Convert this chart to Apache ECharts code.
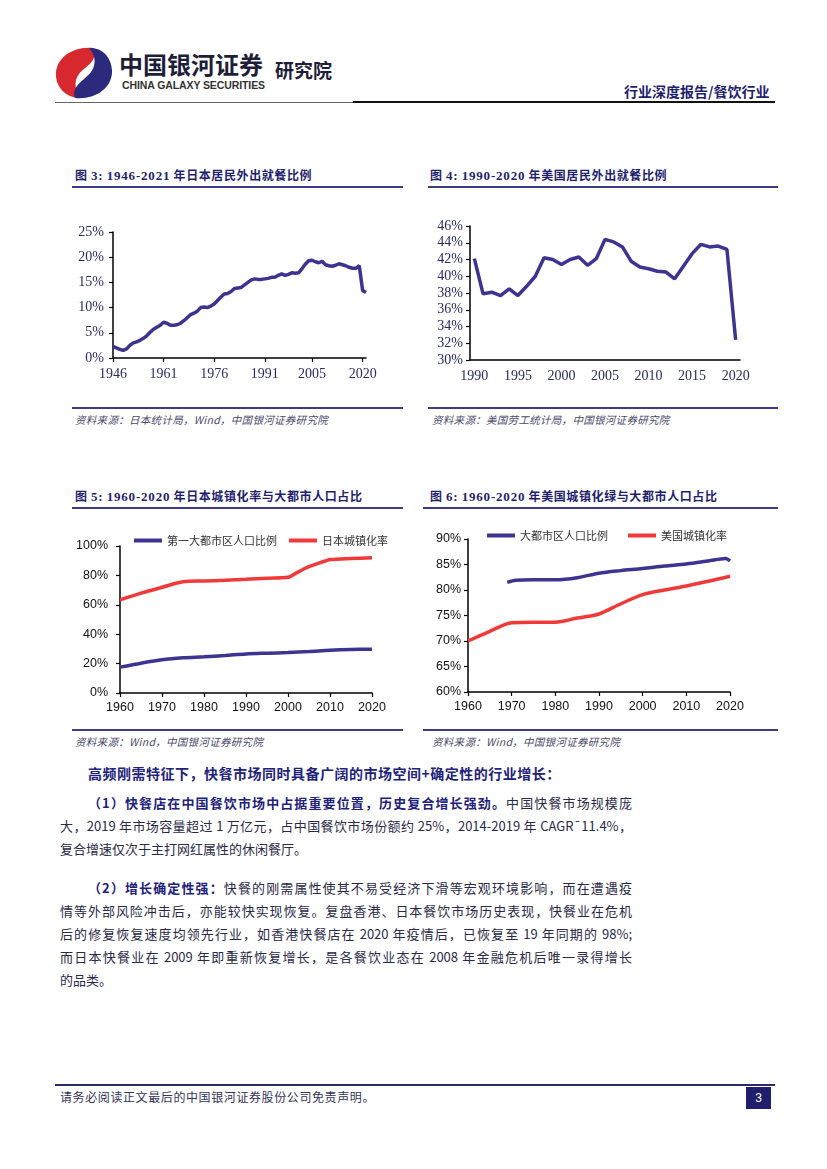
<!DOCTYPE html>
<html><head><meta charset="utf-8">
<script src="https://cdn.jsdelivr.net/npm/echarts@6/dist/echarts.min.js"></script>
<style>
html,body{margin:0;padding:0;background:#fff;}
#page{position:relative;width:827px;height:1169px;overflow:hidden;font-family:"Noto Sans CJK SC",sans-serif;background:#fff;}
.abs{position:absolute;white-space:nowrap;}
#chart{position:absolute;left:0;top:0;width:827px;height:1169px;}
.ttl{font-size:12px;font-weight:bold;color:#1f1f6e;line-height:16px;letter-spacing:0.6px;}
.ttl .n{font-family:"Liberation Serif",serif;font-size:13px;letter-spacing:0.8px;}
.rule{position:absolute;height:2px;background:#3d3a86;}
.src{font-size:10.5px;font-style:italic;color:#4a4a6a;line-height:14px;letter-spacing:0.3px;}
.body{font-size:13px;color:#2a2a48;line-height:16px;}
.b{font-weight:bold;color:#22227a;}
.jl{text-align:justify;text-align-last:justify;}
</style></head>
<body>
<div id="page">
  <!-- header -->
  <svg class="abs" style="left:53px;top:44px" width="62" height="58" viewBox="0 0 62 58">
    <path fill="#d7282f" d="M40,4 C20,2 2,14 3,32 C4,46 16,55 30,54 C22,48 20,38 26,30 C32,22 46,18 40,4 Z"/>
    <path fill="#2b2a7c" d="M22,54 C42,56 60,44 59,26 C58,12 48,3 36,4 C42,10 44,20 38,28 C32,36 18,42 22,54 Z"/>
  </svg>
  <div class="abs" style="left:119px;top:49px;font-size:24px;font-weight:bold;color:#1e1e38;line-height:30px;">中国银河证券</div>
  <div class="abs" style="left:122px;top:79px;font-size:10.5px;font-weight:bold;color:#333;font-family:'Liberation Sans',Arial,sans-serif;line-height:12px;letter-spacing:-0.1px;">CHINA GALAXY SECURITIES</div>
  <div class="abs" style="left:275px;top:58px;font-size:19px;font-weight:bold;color:#1e1e38;line-height:24px;">研究院</div>
  <div class="abs" style="left:55px;top:102px;width:298px;height:1px;background:#666;"></div>
  <div class="abs" style="left:353px;top:101px;width:422px;height:2px;background:#111;"></div>
  <div class="abs" style="left:624px;top:82px;font-size:14px;font-weight:bold;color:#1f1f6e;line-height:18px;">行业深度报告/餐饮行业</div>

  <!-- chart titles -->
  <div class="abs ttl" style="left:75px;top:167px;">图 <span class="n">3:</span> <span class="n">1946-2021</span> 年日本居民外出就餐比例</div>
  <div class="rule" style="left:72px;top:186px;width:331px;"></div>
  <div class="abs ttl" style="left:430px;top:167px;">图 <span class="n">4:</span> <span class="n">1990-2020</span> 年美国居民外出就餐比例</div>
  <div class="rule" style="left:428px;top:186px;width:350px;"></div>
  <div class="rule" style="left:72px;top:407px;width:331px;"></div>
  <div class="abs src" style="left:75px;top:413px;">资料来源：日本统计局，Wind，中国银河证券研究院</div>
  <div class="rule" style="left:428px;top:407px;width:350px;"></div>
  <div class="abs src" style="left:432px;top:413px;">资料来源：美国劳工统计局，中国银河证券研究院</div>

  <div class="abs ttl" style="left:75px;top:488px;">图 <span class="n">5:</span> <span class="n">1960-2020</span> 年日本城镇化率与大都市人口占比</div>
  <div class="rule" style="left:72px;top:507px;width:331px;"></div>
  <div class="abs ttl" style="left:430px;top:488px;">图 <span class="n">6:</span> <span class="n">1960-2020</span> 年美国城镇化绿与大都市人口占比</div>
  <div class="rule" style="left:423px;top:507px;width:355px;"></div>
  <div class="rule" style="left:72px;top:729px;width:331px;"></div>
  <div class="abs src" style="left:75px;top:735px;">资料来源：Wind，中国银河证券研究院</div>
  <div class="rule" style="left:423px;top:729px;width:355px;"></div>
  <div class="abs src" style="left:432px;top:735px;">资料来源：Wind，中国银河证券研究院</div>

  <!-- body text -->
  <div class="abs body b" style="left:88px;top:765px;font-size:14px;letter-spacing:0.5px;">高频刚需特征下，快餐市场同时具备广阔的市场空间+确定性的行业增长：</div>

  <div class="abs body jl" style="left:88px;top:795px;width:544px;"><span class="b">（1）快餐店在中国餐饮市场中占据重要位置，历史复合增长强劲。</span>中国快餐市场规模庞</div>
  <div class="abs body jl" style="left:60px;top:818px;width:572px;">大，2019 年市场容量超过 1 万亿元，占中国餐饮市场份额约 25%，2014-2019 年 CAGR¯11.4%，</div>
  <div class="abs body" style="left:60px;top:841px;">复合增速仅次于主打网红属性的休闲餐厅。</div>

  <div class="abs body jl" style="left:88px;top:880px;width:544px;"><span class="b">（2）增长确定性强：</span>快餐的刚需属性使其不易受经济下滑等宏观环境影响，而在遭遇疫</div>
  <div class="abs body jl" style="left:60px;top:903px;width:572px;">情等外部风险冲击后，亦能较快实现恢复。复盘香港、日本餐饮市场历史表现，快餐业在危机</div>
  <div class="abs body jl" style="left:60px;top:926px;width:572px;">后的修复恢复速度均领先行业，如香港快餐店在 2020 年疫情后，已恢复至 19 年同期的 98%;</div>
  <div class="abs body jl" style="left:60px;top:949px;width:572px;">而日本快餐业在 2009 年即重新恢复增长，是各餐饮业态在 2008 年金融危机后唯一录得增长</div>
  <div class="abs body" style="left:60px;top:972px;">的品类。</div>

  <!-- footer -->
  <div class="abs" style="left:55px;top:1084px;width:720px;height:2px;background:#2b2a6e;"></div>
  <div class="abs" style="left:60px;top:1089px;font-size:12px;color:#33335a;letter-spacing:0.6px;line-height:16px;">请务必阅读正文最后的中国银河证券股份公司免责声明。</div>
  <div class="abs" style="left:746px;top:1087px;width:25px;height:22px;background:#1f1f6e;color:#fff;font-size:12px;line-height:22px;text-align:center;font-family:'Liberation Sans',Arial,sans-serif;">3</div>

  <div id="chart"></div>
</div>
<script>
// ---- Figure 3: Japan share of eating out, 1946-2021 (%)
const jpYears = ['1946','1947','1948','1949','1950','1951','1952','1953','1954','1955','1956','1957','1958','1959',
  '1960','1961','1962','1963','1964','1965','1966','1967','1968','1969','1970','1971','1972','1973','1974','1975',
  '1976','1977','1978','1979','1980','1981','1982','1983','1984','1985','1986','1987','1988','1989','1990','1991',
  '1992','1993','1994','1995','1996','1997','1998','1999','2000','2001','2002','2003','2004','2005','2006','2007',
  '2008','2009','2010','2011','2012','2013','2014','2015','2016','2017','2018','2019','2020','2021'];
const jpShare = [2.3,2.0,1.7,1.5,1.8,2.5,3.0,3.2,3.5,3.9,4.4,5.1,5.7,6.1,6.5,7.1,6.9,6.5,6.5,6.6,
  6.9,7.4,8.0,8.6,8.9,9.3,10.0,10.1,10.0,10.3,10.7,11.4,12.1,12.7,12.8,13.2,13.8,13.9,14.0,14.5,
  15.0,15.5,15.7,15.6,15.6,15.7,15.8,16.0,16.0,16.4,16.7,16.4,16.6,16.9,16.8,16.9,17.7,18.6,19.3,19.4,
  19.1,18.9,19.2,18.5,18.3,18.2,18.4,18.7,18.5,18.3,18.0,17.8,17.8,18.3,13.4,13.0];
const jpTickLabels = ['1946','1961','1976','1991','2005','2020'];

// ---- Figure 4: US share of eating out, 1990-2020 (%)
const usYears = ['1990','1991','1992','1993','1994','1995','1996','1997','1998','1999','2000','2001','2002','2003',
  '2004','2005','2006','2007','2008','2009','2010','2011','2012','2013','2014','2015','2016','2017','2018','2019','2020'];
const usShare = [42.1,37.9,38.1,37.7,38.5,37.7,38.8,40.0,42.2,42.0,41.4,42.0,42.3,41.3,42.1,44.4,44.1,43.5,
  41.8,41.1,40.9,40.6,40.5,39.7,41.2,42.7,43.8,43.5,43.6,43.2,32.4];
const usTickLabels = ['1990','1995','2000','2005','2010','2015','2020'];

// ---- Figure 5: Japan urbanization & largest metro share (%)
const jpMetro = [[1960,17.6],[1965,20.3],[1970,22.6],[1975,23.9],[1980,24.6],[1985,25.5],[1990,26.6],
  [1995,27.1],[2000,27.5],[2005,28.2],[2010,29.1],[2015,29.6],[2020,29.8]];
const jpUrban = [[1960,63.3],[1965,67.9],[1970,71.9],[1975,75.7],[1980,76.2],[1985,76.7],[1990,77.3],[1995,78.0],
  [2000,78.7],[2001,80.0],[2002,81.7],[2003,83.2],[2004,84.7],[2005,86.0],[2006,87.0],[2007,88.0],[2008,89.0],
  [2009,89.9],[2010,90.8],[2015,91.5],[2020,92.0]];
const jpLegend = ['第一大都市区人口比例','日本城镇化率'];

// ---- Figure 6: US urbanization & metro share (%)
const usMetro = [[1969,81.5],[1971,81.9],[1975,82.0],[1980,82.0],[1985,82.4],[1990,83.3],[1995,83.8],
  [2000,84.2],[2005,84.7],[2010,85.1],[2015,85.7],[2019,86.2],[2020,85.7]];
const usUrban = [[1960,70.0],[1965,71.9],[1970,73.6],[1975,73.7],[1980,73.7],[1985,74.5],[1990,75.3],
  [1995,77.3],[2000,79.1],[2005,80.0],[2010,80.8],[2015,81.7],[2020,82.7]];
const usLegend = ['大都市区人口比例','美国城镇化率'];

const NAVY = '#3C3490', RED = '#F03A3A';
const axLine = {lineStyle:{color:'#000',width:1.5}};
const axTick = {length:4,lineStyle:{color:'#000',width:1.2}};
const serifLbl = {color:'#2a2a66',fontFamily:'Liberation Serif, serif',fontSize:14};
const sansLbl = {color:'#111',fontFamily:'Liberation Sans, Arial, sans-serif',fontSize:12.5};
const yearFmt = v => String(v);

const chart = echarts.init(document.getElementById('chart'), null, {renderer:'canvas'});
chart.setOption({
  animation:false,
  grid:[
    {left:113, top:232, width:253, height:126},
    {left:470, top:226, width:270, height:134},
    {left:120, top:546, width:252, height:147},
    {left:468, top:539, width:262, height:153}
  ],
  legend:[
    {data:jpLegend, left:129, top:530, icon:'rect', itemWidth:28, itemHeight:4, itemGap:12,
     textStyle:{fontSize:11,color:'#333',fontFamily:'Noto Sans CJK SC'}},
    {data:usLegend, left:482, top:525, icon:'rect', itemWidth:28, itemHeight:4, itemGap:20,
     textStyle:{fontSize:11,color:'#333',fontFamily:'Noto Sans CJK SC'}}
  ],
  xAxis:[
    {type:'category', gridIndex:0, data:jpYears, boundaryGap:false, axisLine:axLine,
     axisTick:Object.assign({interval:(i,v)=>jpTickLabels.includes(v)},axTick),
     axisLabel:Object.assign({interval:(i,v)=>jpTickLabels.includes(v), margin:9},serifLbl), splitLine:{show:false}},
    {type:'category', gridIndex:1, data:usYears, boundaryGap:true, axisLine:axLine,
     axisTick:Object.assign({alignWithLabel:true, interval:(i,v)=>usTickLabels.includes(v)},axTick),
     axisLabel:Object.assign({interval:(i,v)=>usTickLabels.includes(v), margin:9},serifLbl), splitLine:{show:false}},
    {type:'value', gridIndex:2, min:1960, max:2020, interval:10, axisLine:axLine, axisTick:axTick,
     axisLabel:Object.assign({margin:8, formatter:yearFmt},sansLbl), splitLine:{show:false}},
    {type:'value', gridIndex:3, min:1960, max:2020, interval:10, axisLine:axLine, axisTick:axTick,
     axisLabel:Object.assign({margin:8, formatter:yearFmt},sansLbl), splitLine:{show:false}}
  ],
  yAxis:[
    {type:'value', gridIndex:0, min:0, max:25, interval:5, axisLine:Object.assign({show:true},axLine), axisTick:Object.assign({show:true},axTick),
     axisLabel:Object.assign({formatter:'{value}%', margin:9},serifLbl), splitLine:{show:false}},
    {type:'value', gridIndex:1, min:30, max:46, interval:2, axisLine:Object.assign({show:true},axLine), axisTick:Object.assign({show:true},axTick),
     axisLabel:Object.assign({formatter:'{value}%', margin:7},serifLbl), splitLine:{show:false}},
    {type:'value', gridIndex:2, min:0, max:100, interval:20, axisLine:Object.assign({show:true},axLine), axisTick:Object.assign({show:true},axTick),
     axisLabel:Object.assign({formatter:'{value}%', margin:12},sansLbl), splitLine:{show:false}},
    {type:'value', gridIndex:3, min:60, max:90, interval:5, axisLine:Object.assign({show:true},axLine), axisTick:Object.assign({show:true},axTick),
     axisLabel:Object.assign({formatter:'{value}%', margin:7},sansLbl), splitLine:{show:false}}
  ],
  series:[
    {name:'日本居民外出就餐比例', type:'line', xAxisIndex:0, yAxisIndex:0, data:jpShare, symbol:'none',
     lineStyle:{color:NAVY,width:3.5}, itemStyle:{color:NAVY}},
    {name:'美国居民外出就餐比例', type:'line', xAxisIndex:1, yAxisIndex:1, data:usShare, symbol:'none',
     lineStyle:{color:NAVY,width:3.5}, itemStyle:{color:NAVY}},
    {name:jpLegend[0], type:'line', xAxisIndex:2, yAxisIndex:2, data:jpMetro, symbol:'none', smooth:0.3,
     lineStyle:{color:NAVY,width:3.5}, itemStyle:{color:NAVY}},
    {name:jpLegend[1], type:'line', xAxisIndex:2, yAxisIndex:2, data:jpUrban, symbol:'none', smooth:0.3,
     lineStyle:{color:RED,width:3.5}, itemStyle:{color:RED}},
    {name:usLegend[0], type:'line', xAxisIndex:3, yAxisIndex:3, data:usMetro, symbol:'none', smooth:0.3,
     lineStyle:{color:NAVY,width:3.5}, itemStyle:{color:NAVY}},
    {name:usLegend[1], type:'line', xAxisIndex:3, yAxisIndex:3, data:usUrban, symbol:'none', smooth:0.3,
     lineStyle:{color:RED,width:3.5}, itemStyle:{color:RED}}
  ]
});
</script>
</body></html>
